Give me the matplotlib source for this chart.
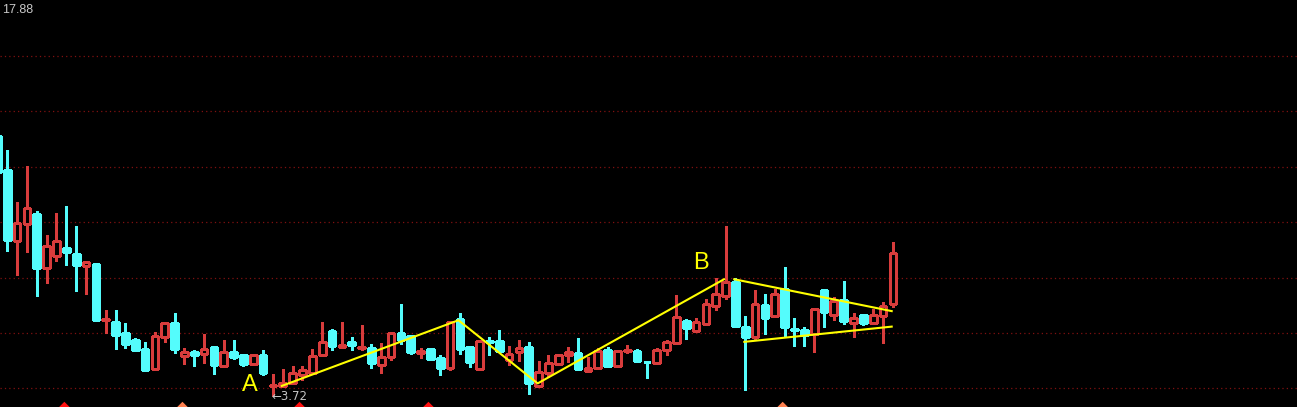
import matplotlib
matplotlib.use("Agg")
import matplotlib.pyplot as plt
import numpy as np

# ---- data (prices), index -1 is the partly hidden first candle ----
opens = [13.11, 11.88, 9.33, 9.94, 10.30, 8.36, 8.78, 9.08, 8.85, 8.43, 8.49,
         6.47, 6.40, 6.00, 5.75, 5.42, 4.70, 5.87, 6.36, 5.17, 5.31,
         5.25, 5.48, 4.82, 5.30, 5.21, 4.88, 5.21, 4.09, 4.10, 4.18,
         4.48, 4.57, 5.19, 6.07, 5.50, 5.68, 5.46, 5.45, 4.83, 5.12,
         6.00, 5.88, 5.29, 5.42, 5.10, 4.72, 6.49, 5.51, 4.69, 5.70,
         5.71, 5.04, 5.30, 5.51, 4.10, 4.57, 4.89, 5.22, 5.27, 4.64,
         4.72, 5.39, 4.81, 5.35, 5.35, 4.96, 4.93, 5.38, 5.65, 6.43,
         6.08, 6.34, 6.99, 7.34, 7.84, 6.22, 5.87, 7.01, 6.61, 7.60,
         6.13, 6.11, 5.98, 7.54, 6.65, 7.20, 6.37, 6.64, 6.37, 6.62,
         7.04]
closes = [11.82, 9.36, 9.96, 10.50, 8.36, 9.14, 9.32, 8.92, 8.45, 8.56, 6.47,
          6.51, 5.93, 5.60, 5.39, 4.66, 5.89, 6.36, 5.42, 5.31, 5.21,
          5.42, 4.84, 5.30, 5.13, 4.88, 5.19, 4.56, 4.12, 4.18, 4.55,
          4.66, 5.17, 5.67, 5.54, 5.57, 5.55, 5.51, 4.93, 5.15, 5.99,
          5.75, 5.32, 5.35, 5.06, 4.75, 6.39, 5.41, 4.96, 5.71, 5.68,
          5.36, 5.23, 5.46, 4.21, 4.59, 4.91, 5.21, 5.30, 4.71, 4.74,
          5.35, 4.81, 5.35, 5.39, 4.99, 4.95, 5.39, 5.68, 6.58, 6.19,
          6.39, 7.04, 7.41, 7.84, 6.25, 5.86, 7.04, 6.54, 7.41, 6.22,
          6.11, 5.91, 6.86, 6.77, 7.17, 6.44, 6.53, 6.36, 6.64, 6.97,
          8.88]
highs = [13.11, 12.61, 10.73, 12.03, 10.40, 9.54, 10.33, 10.58, 9.86, 8.61, 8.54,
         6.83, 6.83, 6.36, 5.82, 5.68, 6.04, 6.40, 6.72, 5.46, 5.39,
         5.96, 5.51, 5.75, 5.75, 5.24, 5.23, 5.38, 4.52, 4.69, 4.81,
         4.82, 5.44, 6.39, 6.14, 6.39, 5.85, 6.29, 5.60, 5.63, 6.01,
         7.05, 5.90, 5.47, 5.45, 5.21, 6.40, 6.73, 5.54, 5.75, 5.86,
         6.11, 5.53, 5.75, 5.68, 4.99, 5.19, 5.24, 5.49, 5.81, 5.13,
         5.45, 5.48, 5.39, 5.57, 5.42, 4.97, 5.46, 5.75, 7.37, 6.49,
         6.53, 7.22, 7.97, 9.87, 7.97, 6.61, 7.55, 7.41, 7.59, 8.38,
         6.54, 6.22, 6.86, 7.54, 7.29, 7.88, 6.71, 6.68, 6.88, 7.12,
         9.27]
lows = [11.78, 8.97, 8.09, 8.94, 7.35, 7.82, 8.61, 8.45, 7.52, 7.41, 6.47,
        5.99, 5.42, 5.46, 5.35, 4.66, 4.70, 5.68, 5.28, 4.88, 4.81,
        4.93, 4.52, 4.82, 5.06, 4.82, 4.84, 4.48, 3.72, 4.10, 4.18,
        4.30, 4.57, 5.19, 5.37, 5.48, 5.39, 5.37, 4.72, 4.54, 5.02,
        5.59, 5.25, 5.11, 5.01, 4.48, 4.65, 5.23, 4.77, 4.65, 5.21,
        5.30, 4.83, 5.00, 3.81, 4.09, 4.42, 4.84, 4.95, 4.68, 4.60,
        4.71, 4.76, 4.76, 5.27, 4.94, 4.39, 4.93, 5.21, 5.60, 5.78,
        6.08, 6.34, 6.83, 7.24, 6.22, 3.94, 5.75, 5.96, 6.61, 5.86,
        5.53, 5.53, 5.32, 6.23, 6.47, 6.31, 5.87, 6.30, 6.37, 5.65,
        6.95]
idx = np.arange(len(opens)) - 1  # first candle sits just off the left edge

# hand-drawn trend lines (candle index, price)
zigzag_idx = [27.9, 45.85, 53.9, 72.84]
zigzag_px = [4.09, 6.46, 4.18, 7.94]
tri_up_idx = [73.88, 89.88]
tri_up_px = [7.94, 6.79]
tri_lo_idx = [74.9, 89.88]
tri_lo_px = [5.68, 6.23]

grid_levels = [4, 6, 8, 10, 12, 14, 16]
marker_idx = [5.8, 17.8, 29.7, 42.8, 78.8]
marker_colors = ['#ff1010', '#ff8050', '#ff1010', '#ff1010', '#ff8050']
top_label = "17.88"

UP = '#d83c3c'
DOWN = '#54fcfc'

fig = plt.figure(figsize=(12.97, 4.07), dpi=100, facecolor='black')
ax = fig.add_axes([0, 0, 1, 1])
ax.set_facecolor('black')
ax.set_xlim(-0.742, 131.07)
ax.set_ylim(3.328, 18.022)
ax.axis('off')

for g in grid_levels:
    ax.axhline(g, color='#801010', lw=0.9, linestyle=(0, (1, 2.5)), zorder=1)

w = 0.68
o = np.array(opens); c = np.array(closes); h = np.array(highs); l = np.array(lows)
up = c >= o
top = np.maximum(o, c); bot = np.minimum(o, c)
# wicks
for x, hi, lo, t, b, u in zip(idx, h, l, top, bot, up):
    col = UP if u else DOWN
    ax.plot([x, x], [t, hi], color=col, lw=0.9, solid_capstyle='butt', antialiased=False, zorder=2)
    ax.plot([x, x], [lo, b], color=col, lw=0.9, solid_capstyle='butt', antialiased=False, zorder=2)
# bodies
ax.bar(idx[up], (top - bot)[up], bottom=bot[up], width=w, facecolor='black',
       edgecolor=UP, linewidth=0.9, antialiased=False, zorder=3)
ax.bar(idx[~up], (top - bot)[~up], bottom=bot[~up], width=w, facecolor=DOWN,
       edgecolor=DOWN, linewidth=0.9, antialiased=False, zorder=3)

# trend lines
ax.plot(zigzag_idx, zigzag_px, color='#ffff00', lw=1.5, zorder=4)
ax.plot(tri_up_idx, tri_up_px, color='#ffff00', lw=1.5, zorder=4)
ax.plot(tri_lo_idx, tri_lo_px, color='#ffff00', lw=1.5, zorder=4)

ax.text(24.66, 4.12, 'A', color='#ffff00', fontsize=17, ha='center', va='center',
        family=['Liberation Sans', 'DejaVu Sans'], zorder=5)
ax.text(70.45, 8.54, 'B', color='#ffff00', fontsize=17, ha='center', va='center',
        family=['Liberation Sans', 'DejaVu Sans'], zorder=5)

low_i = int(np.argmin(l))
ax.text(idx[low_i] - 0.15, l[low_i] - 0.01, '\u2190' + f"{l[low_i]:.2f}", color='#c4c4c4',
        fontsize=8.5, ha='left', va='center', family=['DejaVu Sans'], zorder=5)

ax.text(0.0013, 1 - 10 / 407, top_label, transform=ax.transAxes, color='#c8c8c8',
        fontsize=9, ha='left', va='center', family=['Liberation Sans', 'DejaVu Sans'])

ax.scatter(marker_idx, [3.33] * len(marker_idx), marker='D', s=28, c=marker_colors,
           linewidths=0, zorder=5, clip_on=False)

fig.savefig('out.png', dpi=100, facecolor='black')
